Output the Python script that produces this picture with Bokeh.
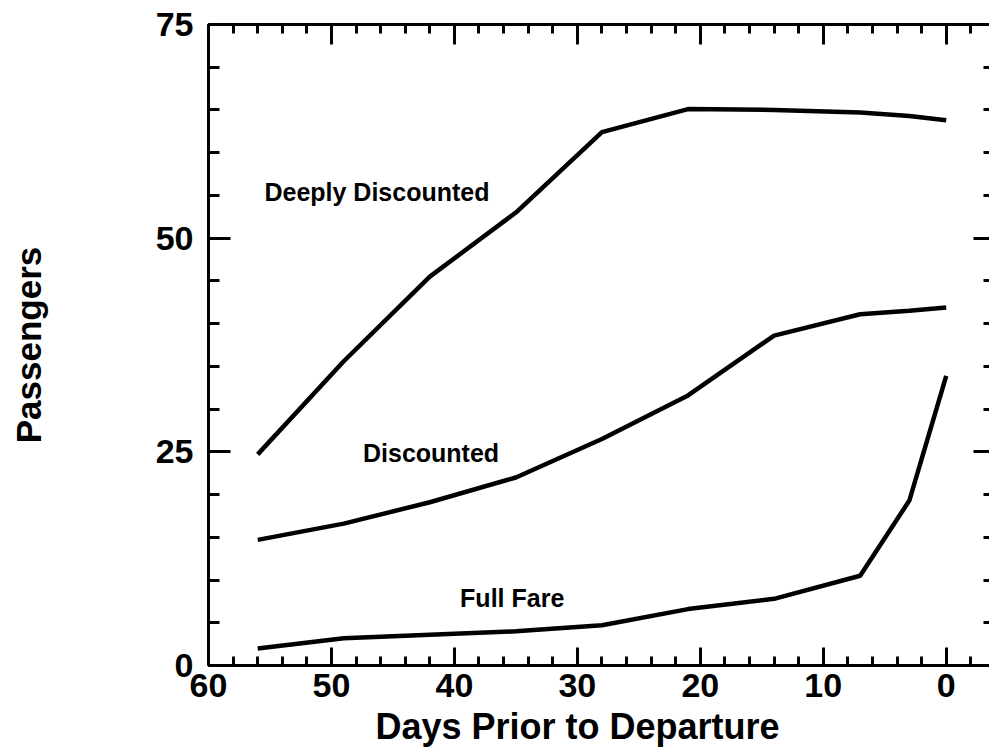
from bokeh.plotting import figure
from bokeh.models import Range1d, FixedTicker, LinearAxis, Label, Title, CustomJSTickFormatter
from bokeh.embed import file_html
from bokeh.resources import INLINE

# ---- data ----
days = [56, 49, 42, 35, 28, 21, 14, 7, 3, 0]
deeply_discounted = [24.7, 35.6, 45.5, 53.0, 62.4, 65.1, 65.0, 64.7, 64.3, 63.8]
discounted = [14.7, 16.6, 19.1, 22.0, 26.5, 31.6, 38.6, 41.1, 41.5, 41.9]
full_fare = [2.0, 3.2, 3.6, 4.0, 4.7, 6.6, 7.8, 10.5, 19.3, 33.9]

series_names = ["Deeply Discounted", "Discounted", "Full Fare"]
label_days = [46.3, 41.9, 35.3]
label_values = [55.4, 24.9, 7.9]

x_major_ticks = [60, 50, 40, 30, 20, 10, 0]
x_minor_ticks = list(range(-4, 62, 2))
y_major_ticks = [0, 25, 50, 75]
y_minor_ticks = list(range(0, 80, 5))

x_title = "Days Prior to Departure"
y_title = "Passengers"

FONT = "Liberation Sans"

p = figure(width=989, height=751,
           x_range=Range1d(60, -3.52), y_range=Range1d(0, 75),
           output_backend="svg", toolbar_location=None,
           min_border_left=208, min_border_right=0,
           min_border_top=24, min_border_bottom=86,
           outline_line_color=None, background_fill_color="white")
p.xgrid.visible = False
p.ygrid.visible = False

for vals in (deeply_discounted, discounted, full_fare):
    p.line(days, vals, line_color="black", line_width=4.5)

for name, xd, yv in zip(series_names, label_days, label_values):
    p.add_layout(Label(x=xd, y=yv, text=name, text_align="center",
                       text_baseline="middle", text_font=FONT,
                       text_font_style="bold", text_font_size="25px",
                       text_color="black"))


def style(ax, major_in, minor_in):
    ax.axis_line_color = "black"
    ax.axis_line_width = 3
    ax.major_tick_line_color = "black"
    ax.major_tick_line_width = 3
    ax.minor_tick_line_color = "black"
    ax.minor_tick_line_width = 3
    ax.major_tick_in = major_in
    ax.major_tick_out = 0
    ax.minor_tick_in = minor_in
    ax.minor_tick_out = 0
    ax.major_label_text_font = FONT
    ax.major_label_text_font_style = "bold"
    ax.major_label_text_font_size = "34px"
    ax.major_label_text_color = "black"


xb = p.xaxis[0]
xb.ticker = FixedTicker(ticks=x_major_ticks, minor_ticks=x_minor_ticks)
style(xb, 18, 9)
xb.major_label_standoff = 8

yl = p.yaxis[0]
yl.ticker = FixedTicker(ticks=y_major_ticks, minor_ticks=y_minor_ticks)
style(yl, 22, 11)
yl.major_label_standoff = 15
yl.axis_label = y_title
yl.axis_label_text_font = FONT
yl.axis_label_text_font_style = "bold"
yl.axis_label_text_font_size = "35px"
yl.axis_label_text_color = "black"
yl.axis_label_standoff = 105

blank = CustomJSTickFormatter(code="return ''")

xt = LinearAxis(ticker=FixedTicker(ticks=x_major_ticks, minor_ticks=x_minor_ticks),
                formatter=blank)
style(xt, 20, 9)
xt.major_label_text_font_size = "1px"
xt.major_label_standoff = 0
p.add_layout(xt, "above")

yr = LinearAxis(ticker=FixedTicker(ticks=y_major_ticks, minor_ticks=y_minor_ticks),
                formatter=blank)
style(yr, 16, 6)
yr.axis_line_color = None
yr.major_label_text_font_size = "1px"
yr.major_label_standoff = 0
p.add_layout(yr, "right")

p.add_layout(Title(text=x_title, align="left", offset=167, standoff=8,
                   vertical_align="bottom", text_font=FONT,
                   text_font_style="bold", text_font_size="36px",
                   text_color="black"), "below")

open("out.html", "w").write(file_html(p, INLINE))
